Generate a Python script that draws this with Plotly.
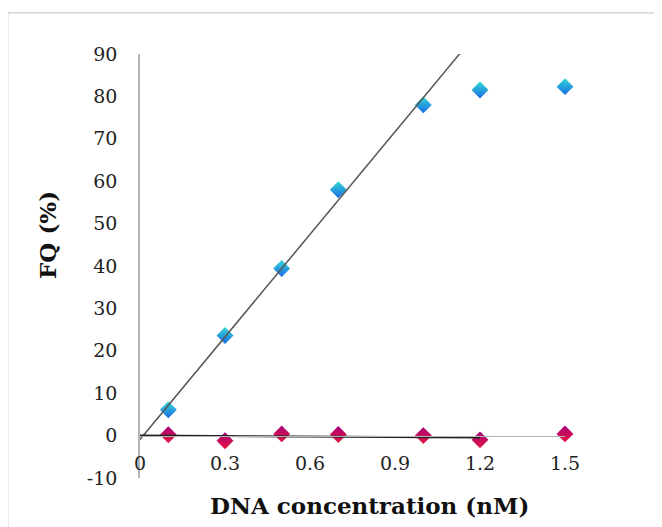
import numpy as np
import plotly.graph_objects as go

# ---- data ----
x_conc = [0.1, 0.3, 0.5, 0.7, 1.0, 1.2, 1.5]
fq_target = [6.1, 23.6, 39.4, 58.0, 78.0, 81.5, 82.3]
fq_control = [0.2, -1.2, 0.4, 0.25, 0.0, -1.0, 0.4]
x_tick_vals = [0, 0.3, 0.6, 0.9, 1.2, 1.5]
x_tick_text = ["0", "0.3", "0.6", "0.9", "1.2", "1.5"]
y_tick_vals = [-10, 0, 10, 20, 30, 40, 50, 60, 70, 80, 90]
y_tick_text = ["-10", "0", "10", "20", "30", "40", "50", "60", "70", "80", "90"]
x_title = "DNA concentration (nM)"
y_title = "FQ (%)"

# linear trendlines (target: linear range up to 1.0 nM; control: up to 1.2 nM)
xt = np.array(x_conc)
yt = np.array(fq_target)
yc = np.array(fq_control)
lin_t = np.polyfit(xt[xt <= 1.0], yt[xt <= 1.0], 1)
lin_c = np.polyfit(xt[xt <= 1.2], yc[xt <= 1.2], 1)
trend_x = np.array([0.0, 1.2])

FONT = "DejaVu Serif"

fig = go.Figure()
fig.add_trace(go.Scatter(
    x=x_conc, y=fq_target, mode="markers", cliponaxis=False,
    marker=dict(symbol="diamond", size=13, color="#33d8d2",
                gradient=dict(type="vertical", color="#1a6be8"),
                line=dict(width=0)),
    showlegend=False))
fig.add_trace(go.Scatter(
    x=x_conc, y=fq_control, mode="markers", cliponaxis=False,
    marker=dict(symbol="diamond", size=13, color="#a8007a",
                gradient=dict(type="vertical", color="#e81840"),
                line=dict(width=0)),
    showlegend=False))
fig.add_trace(go.Scatter(
    x=trend_x, y=np.polyval(lin_t, trend_x), mode="lines",
    line=dict(color="#555555", width=1.5), showlegend=False))
fig.add_trace(go.Scatter(
    x=trend_x, y=np.polyval(lin_c, trend_x), mode="lines",
    line=dict(color="#222222", width=2), showlegend=False))

fig.update_layout(
    width=662, height=527,
    margin=dict(l=132, r=105, t=46, b=57),
    paper_bgcolor="white", plot_bgcolor="white",
    font=dict(family=FONT, size=19, color="#222222"),
    xaxis=dict(range=[0, 1.5], tickvals=x_tick_vals, ticktext=x_tick_text,
               showgrid=False, zeroline=False, showline=True,
               linecolor="#b4b4b4", linewidth=1.2,
               anchor="free", position=0.1, ticks="",
               ticklabelstandoff=10),
    yaxis=dict(range=[-10, 90], tickvals=y_tick_vals, ticktext=y_tick_text,
               showgrid=False, zeroline=False, showline=True,
               linecolor="#b4b4b4", linewidth=1.5, ticks="",
               ticklabelstandoff=17),
    annotations=[
        dict(text="<b>" + x_title + "</b>", xref="paper", yref="paper",
             x=0.541, y=-0.064, xanchor="center", yanchor="middle",
             showarrow=False, font=dict(family=FONT, size=23, color="#111111")),
        dict(text="<b>" + y_title + "</b>", xref="paper", yref="paper",
             x=-0.219, y=0.573, xanchor="center", yanchor="middle",
             textangle=-90, showarrow=False,
             font=dict(family=FONT, size=23, color="#111111")),
    ],
    shapes=[dict(type="rect", xref="paper", yref="paper",
                 x0=-0.311, x1=1.4, y0=-0.3, y1=1.097,
                 line=dict(color="#d0d0d0", width=1.2), layer="below")],
)

fig.write_html("out.html")
